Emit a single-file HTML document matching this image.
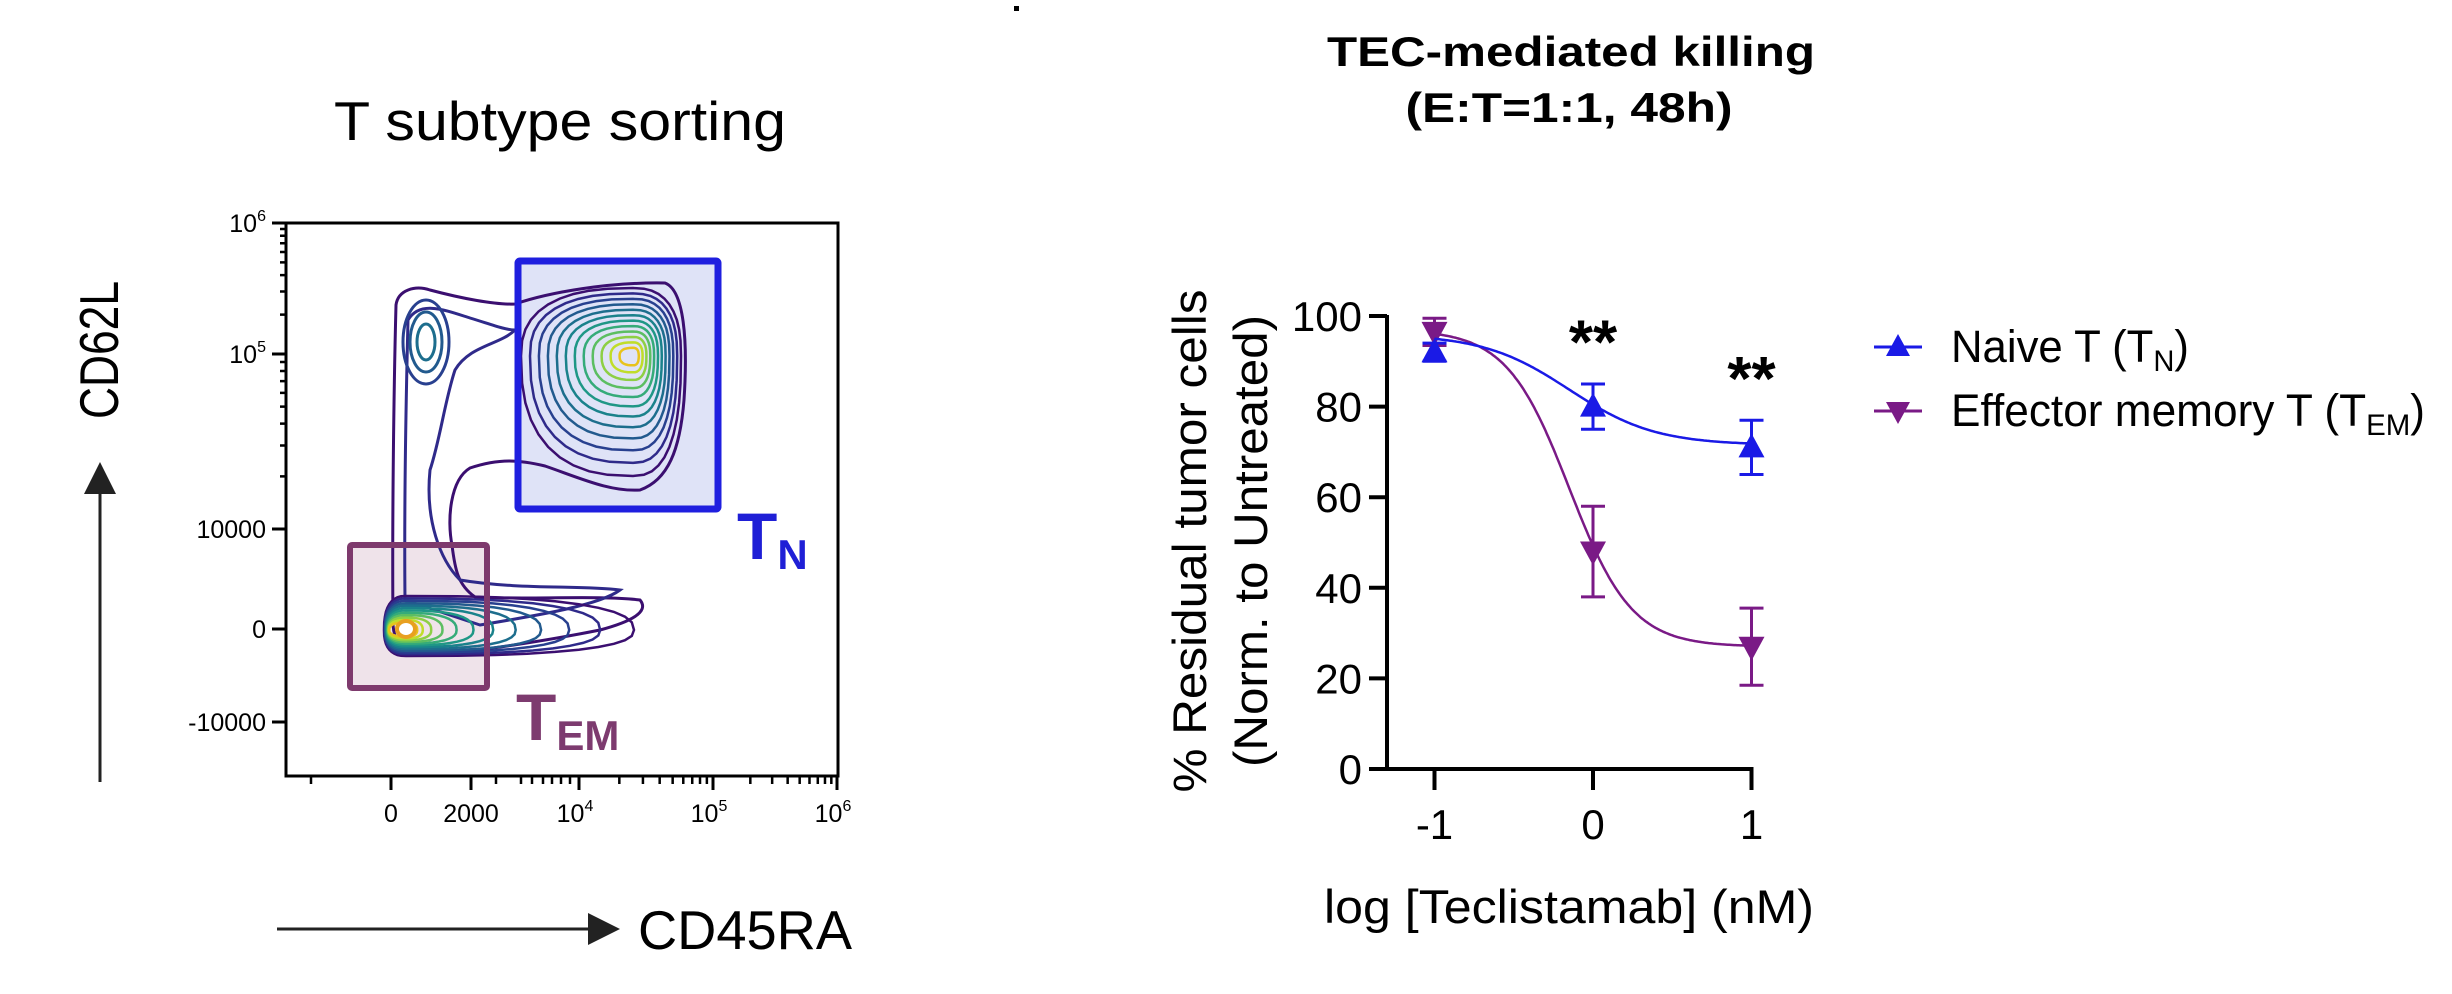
<!DOCTYPE html>
<html><head><meta charset="utf-8">
<style>
html,body{margin:0;padding:0;background:#fff;}
svg{display:block;font-family:"Liberation Sans",Arial,sans-serif;}
</style></head>
<body>
<svg id="root" width="2452" height="994" viewBox="0 0 2452 994" xmlns="http://www.w3.org/2000/svg">
  <rect x="1014" y="6" width="5" height="5" fill="#000"/>
  <!-- LEFT PANEL -->
  <g id="left">
    <text x="560" y="140" font-size="55" text-anchor="middle" textLength="452" lengthAdjust="spacingAndGlyphs">T subtype sorting</text>
    <text transform="translate(118,350) rotate(-90)" font-size="55" text-anchor="middle" textLength="138" lengthAdjust="spacingAndGlyphs">CD62L</text>
    <line x1="100" y1="782" x2="100" y2="490" stroke="#222" stroke-width="3"/>
    <polygon points="100,462 84,494 116,494" fill="#222"/>
    <line x1="277" y1="929" x2="592" y2="929" stroke="#222" stroke-width="3"/>
    <polygon points="620,929 588,913 588,945" fill="#222"/>
    <text x="638" y="949" font-size="55" textLength="214" lengthAdjust="spacingAndGlyphs">CD45RA</text>
    <g id="gatesFill"></g>
    <g id="contours"></g>
    <g id="gatesStroke"></g>
    <rect x="286" y="223" width="552" height="553" fill="none" stroke="#000" stroke-width="3"/>
    <g id="flowAxes"></g>
    <text x="737" y="559" font-size="66" font-weight="bold" fill="#1f1fd6">T<tspan font-size="42" dy="10">N</tspan></text>
    <text x="516" y="740" font-size="66" font-weight="bold" fill="#7d3b6f">T<tspan font-size="42" dy="10">EM</tspan></text>
  </g>
  <!-- RIGHT PANEL -->
  <g id="right">
    <text x="1571" y="66" font-size="42" font-weight="bold" text-anchor="middle" textLength="488" lengthAdjust="spacingAndGlyphs">TEC-mediated killing</text>
    <text x="1569" y="122" font-size="42" font-weight="bold" text-anchor="middle" textLength="327" lengthAdjust="spacingAndGlyphs">(E:T=1:1, 48h)</text>
    <text transform="translate(1206,541) rotate(-90)" font-size="47" text-anchor="middle" textLength="503" lengthAdjust="spacingAndGlyphs">% Residual tumor cells</text>
    <text transform="translate(1267,541) rotate(-90)" font-size="47" text-anchor="middle" textLength="452" lengthAdjust="spacingAndGlyphs">(Norm. to Untreated)</text>
    <text x="1569" y="923" font-size="47" text-anchor="middle" textLength="490" lengthAdjust="spacingAndGlyphs">log [Teclistamab] (nM)</text>
    <g id="chart"></g>
    <g id="legend">
      <g>
        <line x1="1874" y1="347" x2="1922" y2="347" stroke="#1a1ae6" stroke-width="3"/>
        <polygon points="1898,334 1886,356 1910,356" fill="#1a1ae6"/>
        <text x="1951" y="362" font-size="45" textLength="238" lengthAdjust="spacingAndGlyphs">Naive T (T<tspan font-size="30" dy="9">N</tspan><tspan dy="-9">)</tspan></text>
      </g>
      <g>
        <line x1="1874" y1="411" x2="1922" y2="411" stroke="#7a1a86" stroke-width="3"/>
        <polygon points="1898,424 1886,402 1910,402" fill="#7a1a86"/>
        <text x="1951" y="426" font-size="45" textLength="474" lengthAdjust="spacingAndGlyphs">Effector memory T (T<tspan font-size="30" dy="9">EM</tspan><tspan dy="-9">)</tspan></text>
      </g>
    </g>
  </g>
</svg>
<script>
// ---- Killing chart data ----
const doses = [-1, 0, 1];
const naiveMean = [92, 80, 71];
const naiveErr = [2, 5, 6];
const temMean = [96.5, 48, 27];
const temErr = [3, 10, 8.5];
const naiveFit = [96, 71.5, -0.15, 1.6]; // top, bottom, logEC50, hill
const temFit = [97, 27, -0.15, 2.2];
const yTicks = [0, 20, 40, 60, 80, 100];
const xTicks = [-1, 0, 1];
const sigX = [0, 1];
const sigY = [97, 89];
const sigLabels = ["**", "**"];

const NS = "http://www.w3.org/2000/svg";
function mk(tag, attrs, parent) {
  const e = document.createElementNS(NS, tag);
  for (const k in attrs) e.setAttribute(k, attrs[k]);
  parent.appendChild(e);
  return e;
}
const xS = v => 1593 + v * 158.5;
const yS = v => 769 - v * 4.53;
const chart = document.getElementById('chart');

const yAxis = mk('line', {x1: 1387, y1: yS(100) - 1, x2: 1387, y2: yS(0) + 2, stroke: '#000', 'stroke-width': 4}, chart);


const xAxis = mk('line', {x1: 1369, y1: yS(0), x2: xS(1) + 2, y2: yS(0), stroke: '#000', 'stroke-width': 4}, chart);


yTicks.forEach(t => {
  const l = mk('line', {x1: 1369, y1: yS(t), x2: 1387, y2: yS(t), stroke: '#000', 'stroke-width': 4}, chart);
  
  
  const tx = mk('text', {x: 1362, y: yS(t) + 15, 'font-size': 42, 'text-anchor': 'end'}, chart);
  tx.textContent = t;
  
  
});
xTicks.forEach(t => {
  const l = mk('line', {x1: xS(t), y1: yS(0), x2: xS(t), y2: 790, stroke: '#000', 'stroke-width': 4}, chart);
  
  
  const tx = mk('text', {x: xS(t), y: 839, 'font-size': 42, 'text-anchor': 'middle'}, chart);
  tx.textContent = t;
  
  
});
function fit(p, x) { return p[1] + (p[0] - p[1]) / (1 + Math.pow(10, (x - p[2]) * p[3])); }
function drawSeries(mean, err, p, color, up, name) {
  let d = '';
  for (let i = 0; i <= 200; i++) {
    const x = -1 + 2 * i / 200;
    d += (i ? 'L' : 'M') + xS(x).toFixed(1) + ',' + yS(fit(p, x)).toFixed(1);
  }
  const c = mk('path', {d: d, fill: 'none', stroke: color, 'stroke-width': 2.5}, chart);
  
  
  doses.forEach((x, i) => {
    const cx = xS(x), cy = yS(mean[i]);
    const e = mk('path', {d: `M${cx},${yS(mean[i]+err[i])}V${yS(mean[i]-err[i])}M${cx-12},${yS(mean[i]+err[i])}h24M${cx-12},${yS(mean[i]-err[i])}h24`, stroke: color, 'stroke-width': 3, fill: 'none'}, chart);
    
    
    const pts = up ? `${cx},${cy-14} ${cx-13},${cy+10} ${cx+13},${cy+10}` : `${cx},${cy+14} ${cx-13},${cy-10} ${cx+13},${cy-10}`;
    const m = mk('polygon', {points: pts, fill: color}, chart);
    
    
  });
}
drawSeries(temMean, temErr, temFit, '#7a1a86', false, 'effector-memory');
drawSeries(naiveMean, naiveErr, naiveFit, '#1a1ae6', true, 'naive');
sigX.forEach((x, i) => {
  const t = mk('text', {x: xS(x), y: yS(sigY[i]) + 34, 'font-size': 62, 'font-weight': 'bold', 'text-anchor': 'middle'}, chart);
  t.textContent = sigLabels[i];
  
  
});

// ---- Flow plot axes ----
const flowYTicks = [[223,'10','6'],[354,'10','5'],[529,'10000',''],[629,'0',''],[722,'-10000','']];
const flowXTicks = [[391,'0',''],[471,'2000',''],[579,'10','4'],[713,'10','5'],[837,'10','6']];
const fa = document.getElementById('flowAxes');
flowYTicks.forEach(t => {
  const l = mk('line', {x1: 272, y1: t[0], x2: 286, y2: t[0], stroke: '#000', 'stroke-width': 3}, fa);
  
  
  const tx = mk('text', {x: 266, y: t[0] + 9, 'font-size': 25, 'text-anchor': 'end'}, fa);
  tx.textContent = t[1];
  if (t[2]) { const s = mk('tspan', {'font-size': 16, dy: -11}, tx); s.textContent = t[2]; }
  
  
});
flowXTicks.forEach(t => {
  const l = mk('line', {x1: t[0], y1: 776, x2: t[0], y2: 790, stroke: '#000', 'stroke-width': 3}, fa);
  
  
  const tx = mk('text', {x: t[0] + (t[2] ? -4 : 0), y: 822, 'font-size': 25, 'text-anchor': 'middle'}, fa);
  tx.textContent = t[1];
  if (t[2]) { const s = mk('tspan', {'font-size': 16, dy: -11}, tx); s.textContent = t[2]; }
  
  
});
let minor = '';
for (let m = 2; m <= 9; m++) {
  minor += `M280,${354 - Math.log10(m) * 131}h6`;
  minor += `M280,${529 - Math.log10(m) * 175}h6`;
  minor += `M${579 + Math.log10(m) * 134},776v8`;
  minor += `M${713 + Math.log10(m) * 124},776v8`;
}
[311, 496, 521, 532, 543, 552, 561, 570].forEach(x => minor += `M${x},776v8`);
const mn = mk('path', {d: minor, stroke: '#000', 'stroke-width': 2.5}, fa);



// ---- gates ----
const gf = document.getElementById('gatesFill'), gs = document.getElementById('gatesStroke');
const g1 = mk('rect', {x: 518, y: 261, width: 200, height: 248, fill: '#dfe3f7'}, gf);
 
const g2 = mk('rect', {x: 350, y: 545, width: 137, height: 143, fill: '#efe3ea'}, gf);
 
const g3 = mk('rect', {x: 518, y: 261, width: 200, height: 248, fill: 'none', stroke: '#1f1fdf', 'stroke-width': 7, rx: 2}, gs);
 
const g4 = mk('rect', {x: 350, y: 545, width: 137, height: 143, fill: 'none', stroke: '#7e3a6d', 'stroke-width': 6, rx: 2}, gs);
 

// ---- contours ----
const ct = document.getElementById('contours');
const vir = ['#3b0f70','#2f2a8a','#28408f','#225a8e','#1d6e8d','#1a828b','#1f9786','#35ab79','#5cbe62','#8ecf44','#c0dd2a','#e8c31c'];
const outline = mk('path', {d: 'M393,625 C392,520 394,380 396,305 C398,290 415,285 430,290 C460,298 495,305 515,304 C550,292 610,282 665,283 C684,290 688,340 684,400 C680,450 668,480 640,490 C610,492 580,478 545,466 C520,460 500,458 470,468 C450,480 447,520 452,545 C455,570 458,585 475,597 C520,600 600,595 640,600 C650,612 630,622 600,630 C540,642 470,652 440,654 C410,656 395,650 393,625 Z', fill: 'none', stroke: '#3b0f70', 'stroke-width': 3}, ct);
 
const inner = mk('path', {d: 'M405,600 C404,500 406,400 408,320 C420,300 445,310 470,318 C490,324 505,330 515,330 C500,345 470,345 455,370 C445,400 440,440 430,470 C425,520 440,560 460,580 C520,590 580,585 620,590 C600,605 540,615 480,625 Z', fill: 'none', stroke: '#2f2a8a', 'stroke-width': 3}, ct);
 
for (let k = 0; k < 3; k++) {
  const e = mk('ellipse', {cx: 426, cy: 342, rx: 9 + k * 7, ry: 18 + k * 12, fill: 'none', stroke: vir[4 - k], 'stroke-width': 3}, ct);
   
}
function blob(cx, cy, L, R, T, B, color, name) {
  let d = '';
  for (let i = 0; i <= 40; i++) {
    const a = i / 40 * 2 * Math.PI, c = Math.cos(a), s = Math.sin(a);
    const rx = c < 0 ? L : R, ry = s < 0 ? T : B;
    const px = cx + rx * Math.sign(c) * Math.pow(Math.abs(c), 0.8);
    const py = cy + ry * Math.sign(s) * Math.pow(Math.abs(s), 0.8);
    d += (i ? 'L' : 'M') + px.toFixed(1) + ',' + py.toFixed(1);
  }
  const p = mk('path', {d: d + 'Z', fill: 'none', stroke: color, 'stroke-width': 2.5}, ct);
   
}
for (let k = 0; k < 12; k++) {
  const s = 1 - k / 12.5;
  blob(633, 356, 112 * s, 48 * s, 68 * s, 120 * s * (0.6 + 0.4 * s), vir[k], 'tn-contour');
}
for (let k = 0; k < 12; k++) {
  const s = 1 - k / 12.5;
  blob(406, 630, 16 + 6 * s, 220 * s * s + 8, 30 * s + 4, 22 * s + 4, vir[k], 'tem-contour');
}
const core = mk('ellipse', {cx: 406, cy: 629, rx: 9, ry: 8, fill: '#fff', stroke: '#e8a020', 'stroke-width': 4}, ct);
 
</script>
</body></html>
